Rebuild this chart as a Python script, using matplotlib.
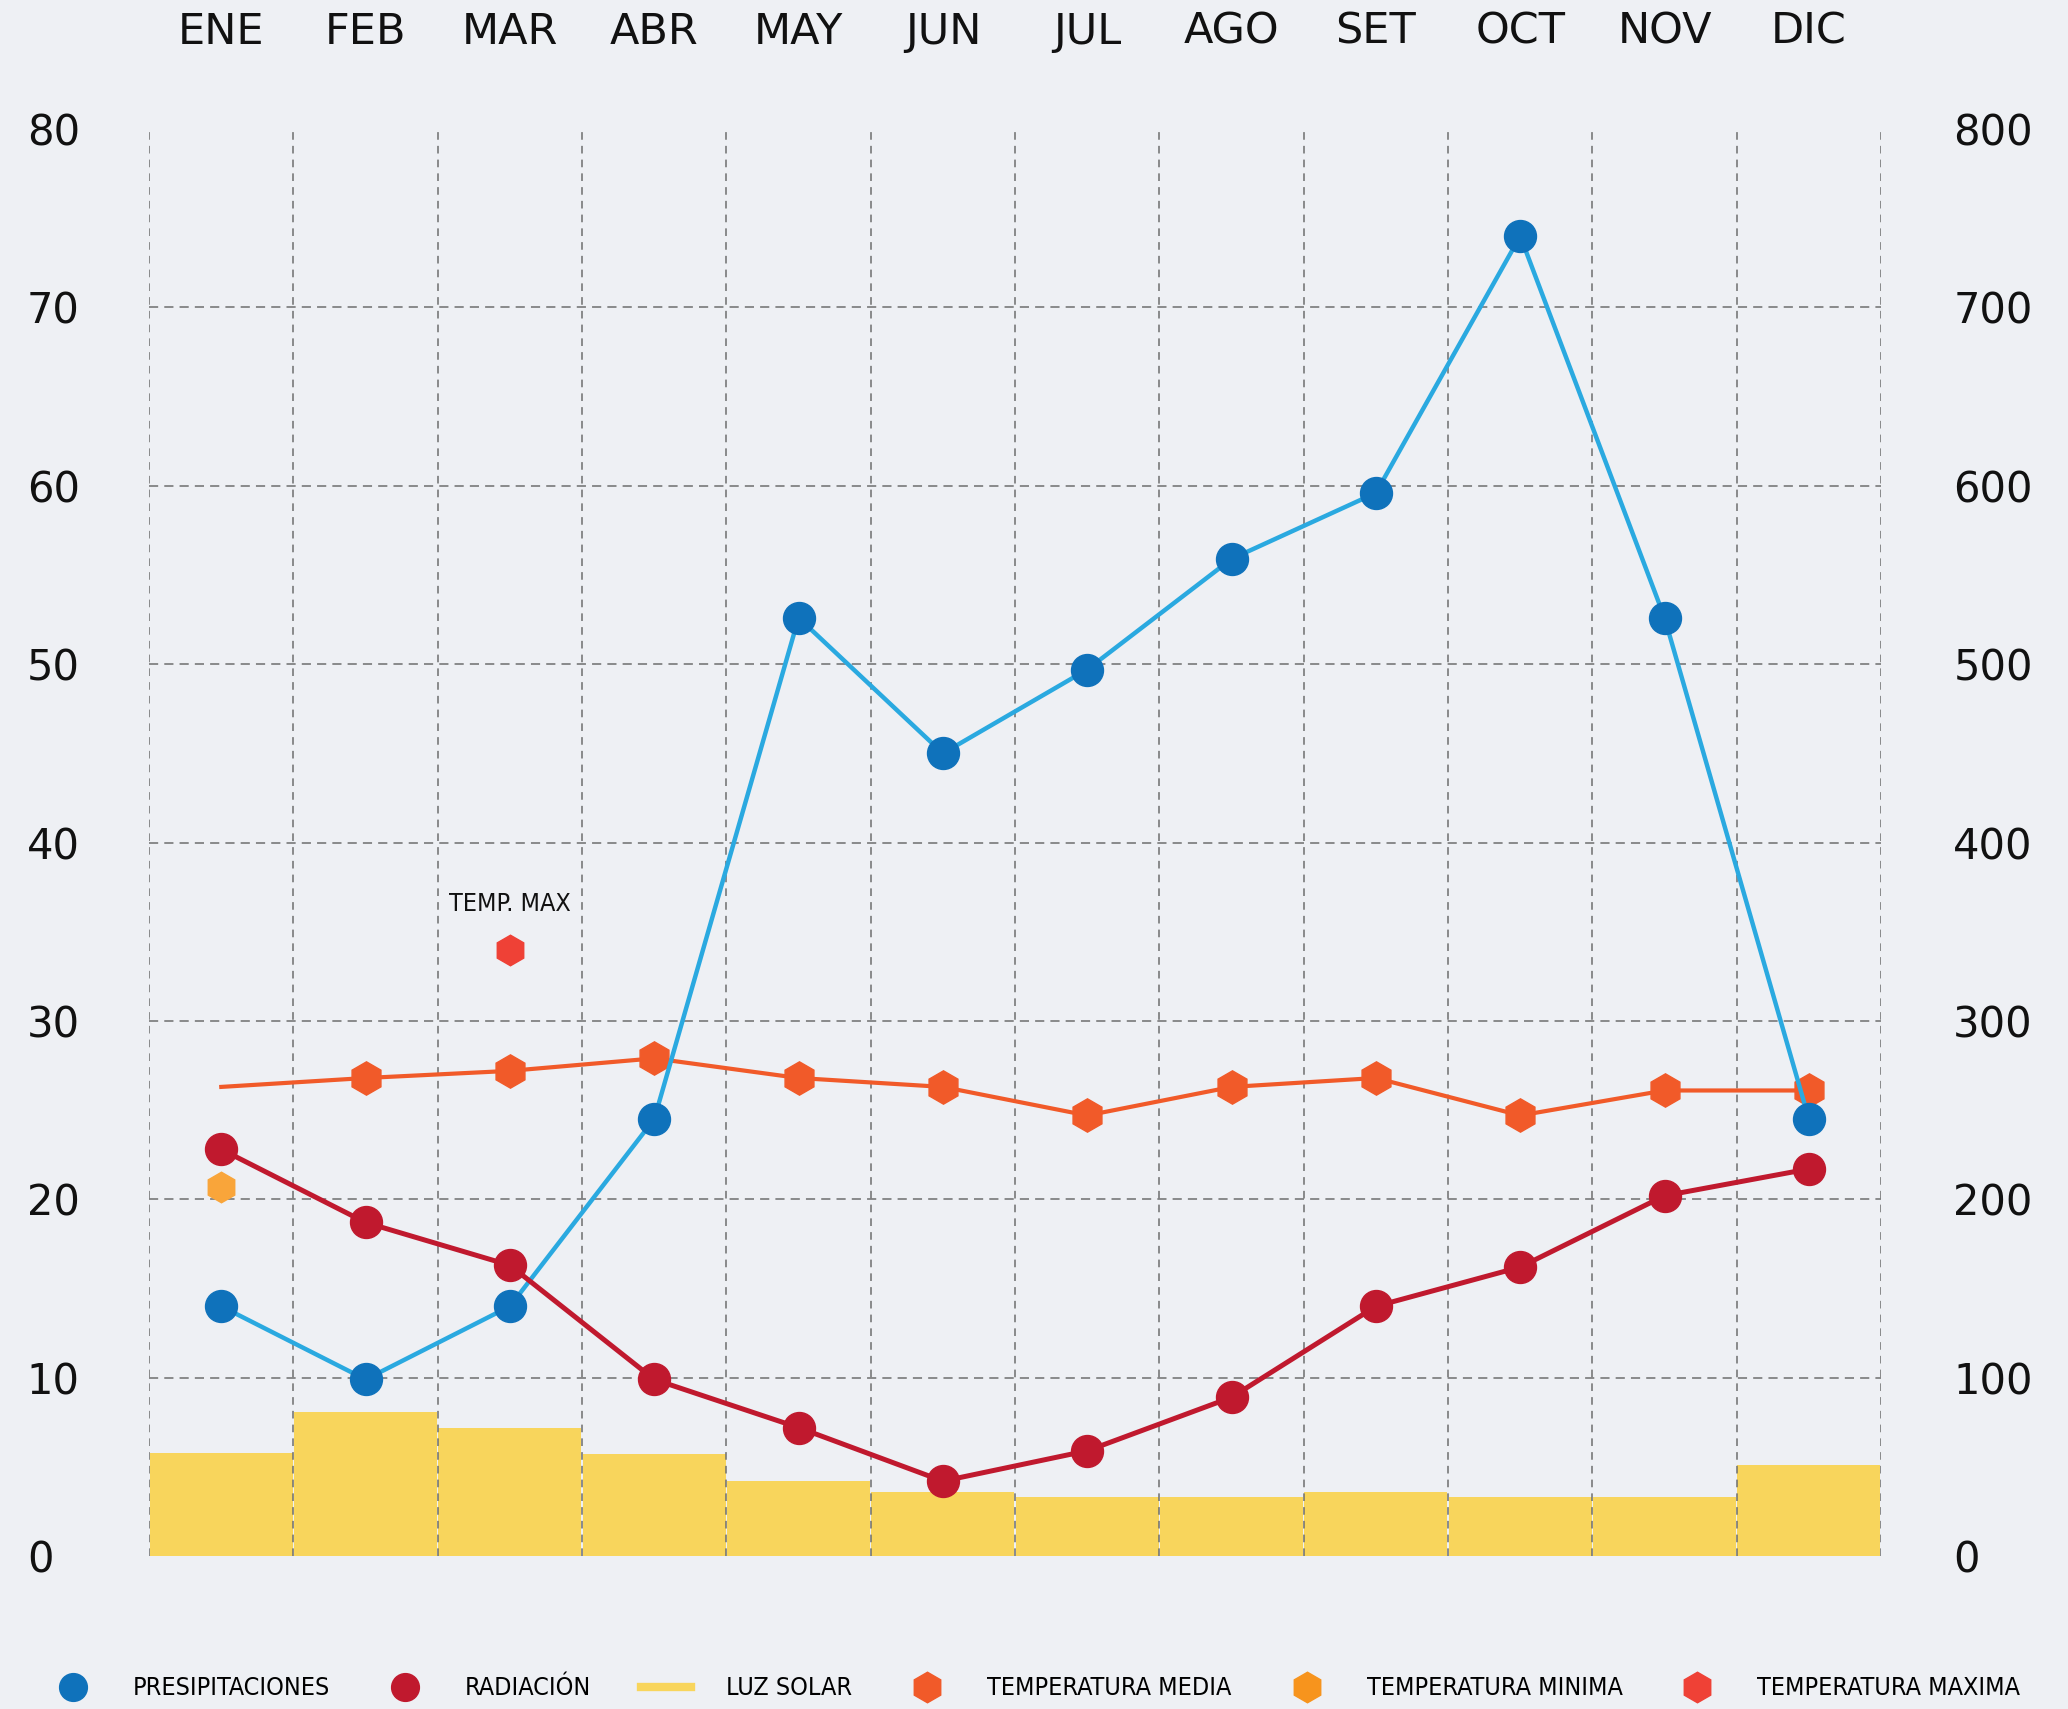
import matplotlib.pyplot as plt
import numpy as np
from matplotlib.lines import Line2D

# monthly climate data
meses = ["ENE", "FEB", "MAR", "ABR", "MAY", "JUN", "JUL", "AGO", "SET", "OCT", "NOV", "DIC"]
precipitaciones = [14.0, 9.9, 14.0, 24.5, 52.6, 45.0, 49.7, 55.9, 59.6, 74.0, 52.6, 24.5]
radiacion = [22.8, 18.7, 16.3, 9.9, 7.2, 4.2, 5.9, 8.9, 14.0, 16.2, 20.2, 21.7]
luz_solar = [5.8, 8.1, 7.2, 5.7, 4.2, 3.6, 3.3, 3.3, 3.6, 3.3, 3.3, 5.1]
temp_media = [26.3, 26.8, 27.2, 27.9, 26.8, 26.3, 24.7, 26.3, 26.8, 24.7, 26.1, 26.1]
temp_minima = {"ENE": 20.7}
temp_maxima = {"MAR": 34.0}
ticks_izq = [0, 10, 20, 30, 40, 50, 60, 70, 80]
ticks_der = [0, 100, 200, 300, 400, 500, 600, 700, 800]

azul_linea = "#2aa9e0"
azul = "#0f72bb"
rojo = "#c0192e"
amarillo = "#f8d55c"
naranja = "#f15a29"
naranja_claro = "#f9a53a"
rojo_claro = "#ef4136"
gris = "#6e6e6e"
fondo = "#eef0f4"

fig = plt.figure(figsize=(20.68, 17.09), dpi=100, facecolor=fondo)
ax = fig.add_axes([0.0721, 0.0895, 0.8375, 0.835])
ax.set_facecolor("none")
x = np.arange(len(meses)) + 0.5
idx = {m: i for i, m in enumerate(meses)}

ax.set_xlim(0, 12)
ax.set_ylim(0, 80)

# sunshine bars fill each month column
ax.bar(x, luz_solar, width=0.99, color=amarillo, zorder=1)

# dashed grid
ax.vlines(np.arange(13), 0, 80, colors=gris, linestyles=(0, (5, 4)), linewidth=1.1, zorder=2)
ax.hlines(ticks_izq[1:-1], 0, 12, colors=gris, linestyles=(0, (6, 4)), linewidth=1.1, zorder=2)

# temperatures
ax.plot(x, temp_media, color=naranja, linewidth=3, marker="h", markersize=24,
        markevery=list(range(1, 12)), zorder=3)
ax.plot([x[idx[m]] for m in temp_minima], list(temp_minima.values()), "h",
        color=naranja_claro, markersize=22, zorder=3)
ax.plot([x[idx[m]] for m in temp_maxima], list(temp_maxima.values()), "h",
        color=rojo_claro, markersize=22, zorder=3)
for m, v in temp_maxima.items():
    ax.annotate("TEMP. MAX", (x[idx[m]], v), xytext=(0, 24), textcoords="offset points",
                ha="center", va="bottom", fontsize=18, fontstretch="condensed",
                color="#111111")

# precipitation and radiation
ax.plot(x, precipitaciones, color=azul_linea, linewidth=3.2, zorder=4)
ax.plot(x, precipitaciones, "o", color=azul, markersize=23, zorder=4)
ax.plot(x, radiacion, color=rojo, linewidth=3.6, marker="o", markersize=23, zorder=5)

for s in ax.spines.values():
    s.set_visible(False)

# month names on top
ax.xaxis.tick_top()
ax.set_xticks(x)
ax.set_xticklabels(meses, fontsize=31, color="#111111")
ax.tick_params(axis="x", length=0, pad=55)

ax.set_yticks(ticks_izq)
ax.set_yticklabels([str(t) for t in ticks_izq], fontsize=30, color="#111111")
ax.tick_params(axis="y", length=0, pad=88)
for lbl in ax.get_yticklabels():
    lbl.set_horizontalalignment("left")

ax2 = ax.twinx()
ax2.set_ylim(0, 800)
ax2.set_yticks(ticks_der)
ax2.set_yticklabels([str(t) for t in ticks_der], fontsize=30, color="#111111")
ax2.tick_params(axis="y", length=0, pad=52)
for s in ax2.spines.values():
    s.set_visible(False)

handles = [
    Line2D([], [], ls="none", marker="o", color=azul, markersize=20),
    Line2D([], [], ls="none", marker="o", color=rojo, markersize=20),
    Line2D([], [], color=amarillo, linewidth=6),
    Line2D([], [], ls="none", marker="h", color=naranja, markersize=22),
    Line2D([], [], ls="none", marker="h", color="#f7941d", markersize=22),
    Line2D([], [], ls="none", marker="h", color=rojo_claro, markersize=22),
]
labels = ["PRESIPITACIONES", "RADIACIÓN", "LUZ SOLAR", "TEMPERATURA MEDIA",
          "TEMPERATURA MINIMA", "TEMPERATURA MAXIMA"]
fig.legend(handles, labels, loc="center", bbox_to_anchor=(0.5, 0.012), ncol=6,
           frameon=False, prop={"family": "DejaVu Sans", "stretch": "condensed", "size": 18},
           handlelength=2.0, handletextpad=1.4, columnspacing=2.0)

fig.savefig("out.png", dpi=100, facecolor=fondo)
